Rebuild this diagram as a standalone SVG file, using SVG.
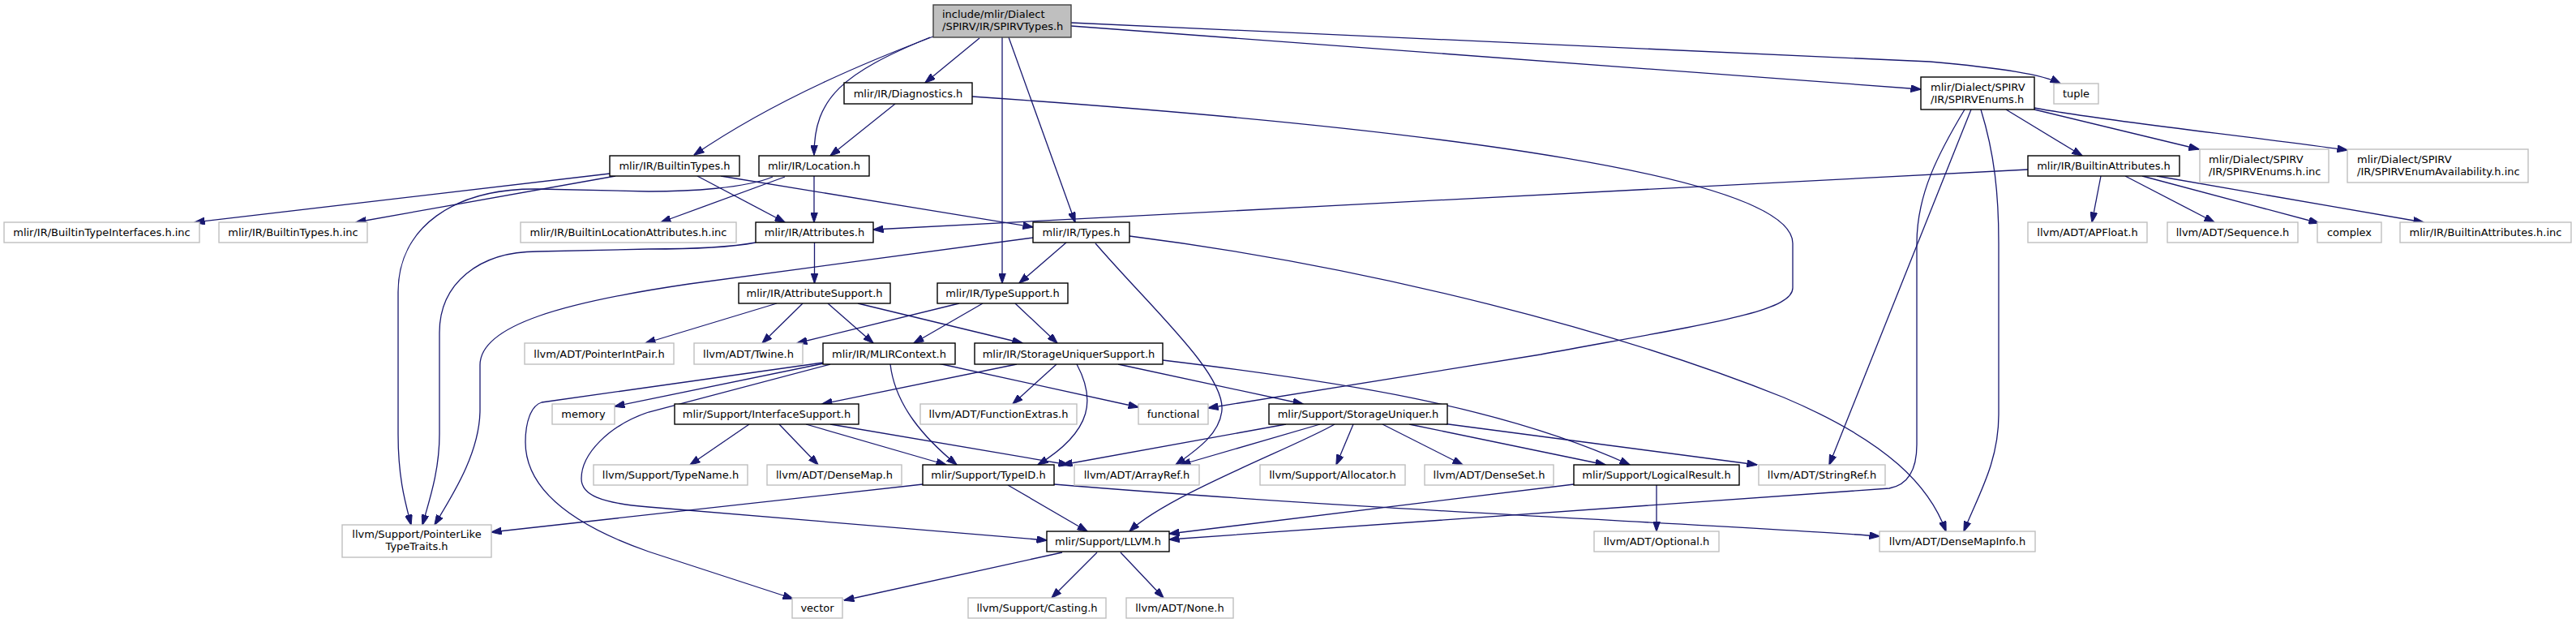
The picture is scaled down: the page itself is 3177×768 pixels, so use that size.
<svg xmlns="http://www.w3.org/2000/svg" width="3177" height="768" viewBox="0 0 3177 768">
<style>
text{font-family:"DejaVu Sans","Liberation Sans",sans-serif;font-size:13px;fill:#000}
.c{text-anchor:middle}
.l{text-anchor:start}
.d rect{fill:#fff;stroke:#000;stroke-width:1.4}
.x rect{fill:#fff;stroke:#bfbfbf;stroke-width:1.4}
.r rect{fill:#bfbfbf;stroke:#404040;stroke-width:1.4}
.e path{fill:none;stroke:#191970;stroke-width:1.3;marker-end:url(#a)}
</style>
<defs>
<marker id="a" viewBox="0 0 13 9" refX="12.5" refY="4.5" markerWidth="13" markerHeight="9" markerUnits="userSpaceOnUse" orient="auto">
<path d="M0,0 L13,4.5 L0,9 z" fill="#191970" stroke="#191970" stroke-width="1"/>
</marker>
</defs>
<rect width="3177" height="768" fill="#fff"/>
<g class="e" id="edges">
<path d="M1151,45 C1080,72 960,120 856,191"/>
<path d="M1147,46 C1040,90 1004,120 1004,191"/>
<path d="M1208,47 L1141,102"/>
<path d="M1236,46 L1236,349"/>
<path d="M1244,46 L1326,274"/>
<path d="M1321,32 L2369,110"/>
<path d="M1321,28 L2380,76 C2470,84 2520,92 2541,103"/>
<path d="M1104,128 L1024,192"/>
<path d="M1199,119 C1800,160 2211,220 2211,300 L2211,355 C2211,385 2100,400 1900,437 L1490,503"/>
<path d="M752,214 L240,274"/>
<path d="M759,217 L439,274"/>
<path d="M860,217 L968,274"/>
<path d="M889,217 L1274,280"/>
<path d="M1004,217 L1004,274"/>
<path d="M968,218 L815,274"/>
<path d="M953,218 C920,232 850,236 800,236 L663,233 C560,232 491,280 491,360 L491,535 C491,590 500,620 507,647"/>
<path d="M932,299 C900,305 850,307 800,307 L663,310 C590,310 542,350 542,410 L542,535 C542,580 530,615 521,647"/>
<path d="M1004.5,299 L1004.5,349"/>
<path d="M1274,293 L850,350 C700,372 592,400 592,450 L592,505 C592,560 555,615 536,647"/>
<path d="M1315,299 L1257,349"/>
<path d="M1351,300 C1420,380 1510,460 1507,505 C1505,535 1475,555 1450,573"/>
<path d="M1393,291 C1700,330 2000,410 2200,490 C2330,545 2380,600 2400,655"/>
<path d="M2474,135 L2568,192"/>
<path d="M2509,135 L2712,184"/>
<path d="M2509,133 C2600,150 2750,165 2895,185"/>
<path d="M2431,135 L2256,573"/>
<path d="M2423,135 C2390,190 2364,240 2364,300 L2364,548 C2364,580 2352,598 2330,602 L1442,665"/>
<path d="M2443,135 C2460,190 2465,240 2465,300 L2465,511 C2465,570 2440,610 2422,655"/>
<path d="M2501,209 L1077,283"/>
<path d="M2591,217 L2580,274"/>
<path d="M2621,217 L2731,274"/>
<path d="M2642,217 L2860,275"/>
<path d="M2660,217 L2989,274"/>
<path d="M958,374 L796,423"/>
<path d="M990,374 L940,423"/>
<path d="M1021,374 L1077,423"/>
<path d="M1058,374 L1261,423"/>
<path d="M1183,374 L983,423"/>
<path d="M1212,374 L1127,423"/>
<path d="M1252,374 L1304,423"/>
<path d="M1016,448 L758,501"/>
<path d="M1015,447 L668,496 C655,500 648,520 648,545 C648,600 700,645 800,680 L978,738"/>
<path d="M1024,449 L800,508 C750,525 717,560 717,590 C717,610 740,620 800,625 L1291,666"/>
<path d="M1098,449 C1104,500 1140,540 1180,573"/>
<path d="M1157,448 L1404,502"/>
<path d="M1254,449 L1014,498"/>
<path d="M1303,449 L1249,498"/>
<path d="M1328,449 C1350,490 1350,530 1280,573"/>
<path d="M1379,449 L1607,498"/>
<path d="M1434,444 C1650,470 1850,500 2010,573"/>
<path d="M924,523 L851,573"/>
<path d="M961,523 L1009,573"/>
<path d="M994,523 L1167,573"/>
<path d="M1024,523 L1318,573"/>
<path d="M1586,523 L1310,573"/>
<path d="M1628,523 L1456,573"/>
<path d="M1646,523 C1600,550 1440,610 1393,655"/>
<path d="M1669,523 L1648,573"/>
<path d="M1705,523 L1804,573"/>
<path d="M1738,523 L1980,573"/>
<path d="M1779,522 L2167,573"/>
<path d="M1243,598 L1341,655"/>
<path d="M1138,597 L606,656"/>
<path d="M1300,597 C1700,630 2100,645 2318,661"/>
<path d="M1941,597 L1442,658"/>
<path d="M2043,598 L2043,655"/>
<path d="M1310,681 L1041,740"/>
<path d="M1353,681 L1297,737"/>
<path d="M1382,681 L1435,737"/>
</g>
<g id="n_root" class="r"><rect x="1151" y="6" width="170" height="40"/><text class="l" x="1162" y="22">include/mlir/Dialect</text><text class="l" x="1162" y="37">/SPIRV/IR/SPIRVTypes.h</text></g>
<g id="n_diagnostics" class="d"><rect x="1041" y="102" width="158" height="26"/><text class="c" x="1120" y="119.5">mlir/IR/Diagnostics.h</text></g>
<g id="n_tuple" class="x"><rect x="2533" y="103" width="55" height="25"/><text class="c" x="2560.5" y="119.5">tuple</text></g>
<g id="n_spirvenums" class="d"><rect x="2369" y="95" width="140" height="40"/><text class="l" x="2381" y="112">mlir/Dialect/SPIRV</text><text class="l" x="2381" y="127">/IR/SPIRVEnums.h</text></g>
<g id="n_builtintypes" class="d"><rect x="752" y="192" width="160" height="25"/><text class="c" x="832" y="209">mlir/IR/BuiltinTypes.h</text></g>
<g id="n_location" class="d"><rect x="936" y="192" width="136" height="25"/><text class="c" x="1004" y="209">mlir/IR/Location.h</text></g>
<g id="n_builtinattributes" class="d"><rect x="2501" y="192" width="187" height="25"/><text class="c" x="2594.5" y="209">mlir/IR/BuiltinAttributes.h</text></g>
<g id="n_spirvenumsinc" class="x"><rect x="2713" y="184" width="159" height="41"/><text class="l" x="2724" y="201">mlir/Dialect/SPIRV</text><text class="l" x="2724" y="216">/IR/SPIRVEnums.h.inc</text></g>
<g id="n_spirvavail" class="x"><rect x="2895" y="184" width="223" height="41"/><text class="l" x="2907" y="201">mlir/Dialect/SPIRV</text><text class="l" x="2907" y="216">/IR/SPIRVEnumAvailability.h.inc</text></g>
<g id="n_bti_inc" class="x"><rect x="5" y="274" width="241" height="25"/><text class="c" x="125.5" y="291">mlir/IR/BuiltinTypeInterfaces.h.inc</text></g>
<g id="n_bt_inc" class="x"><rect x="270" y="274" width="183" height="25"/><text class="c" x="361.5" y="291">mlir/IR/BuiltinTypes.h.inc</text></g>
<g id="n_bla_inc" class="x"><rect x="642" y="274" width="266" height="25"/><text class="c" x="775" y="291">mlir/IR/BuiltinLocationAttributes.h.inc</text></g>
<g id="n_attributes" class="d"><rect x="932" y="274" width="145" height="25"/><text class="c" x="1004.5" y="291">mlir/IR/Attributes.h</text></g>
<g id="n_types" class="d"><rect x="1274" y="274" width="119" height="25"/><text class="c" x="1333.5" y="291">mlir/IR/Types.h</text></g>
<g id="n_apfloat" class="x"><rect x="2501" y="274" width="147" height="25"/><text class="c" x="2574.5" y="291">llvm/ADT/APFloat.h</text></g>
<g id="n_sequence" class="x"><rect x="2673" y="274" width="161" height="25"/><text class="c" x="2753.5" y="291">llvm/ADT/Sequence.h</text></g>
<g id="n_complex" class="x"><rect x="2858" y="274" width="79" height="25"/><text class="c" x="2897.5" y="291">complex</text></g>
<g id="n_ba_inc" class="x"><rect x="2960" y="274" width="211" height="25"/><text class="c" x="3065.5" y="291">mlir/IR/BuiltinAttributes.h.inc</text></g>
<g id="n_attributesupport" class="d"><rect x="911" y="349" width="187" height="25"/><text class="c" x="1004.5" y="366">mlir/IR/AttributeSupport.h</text></g>
<g id="n_typesupport" class="d"><rect x="1156" y="349" width="161" height="25"/><text class="c" x="1236.5" y="366">mlir/IR/TypeSupport.h</text></g>
<g id="n_pointerintpair" class="x"><rect x="647" y="423" width="184" height="26"/><text class="c" x="739" y="440.5">llvm/ADT/PointerIntPair.h</text></g>
<g id="n_twine" class="x"><rect x="856" y="423" width="134" height="26"/><text class="c" x="923" y="440.5">llvm/ADT/Twine.h</text></g>
<g id="n_mlircontext" class="d"><rect x="1015" y="423" width="163" height="26"/><text class="c" x="1096.5" y="440.5">mlir/IR/MLIRContext.h</text></g>
<g id="n_sus" class="d"><rect x="1202" y="423" width="232" height="26"/><text class="c" x="1318" y="440.5">mlir/IR/StorageUniquerSupport.h</text></g>
<g id="n_memory" class="x"><rect x="681" y="498" width="77" height="25"/><text class="c" x="719.5" y="515">memory</text></g>
<g id="n_interfacesupport" class="d"><rect x="832" y="498" width="227" height="25"/><text class="c" x="945.5" y="515">mlir/Support/InterfaceSupport.h</text></g>
<g id="n_functionextras" class="x"><rect x="1135" y="498" width="193" height="25"/><text class="c" x="1231.5" y="515">llvm/ADT/FunctionExtras.h</text></g>
<g id="n_functional" class="x"><rect x="1404" y="498" width="86" height="25"/><text class="c" x="1447" y="515">functional</text></g>
<g id="n_storageuniquer" class="d"><rect x="1565" y="498" width="220" height="25"/><text class="c" x="1675" y="515">mlir/Support/StorageUniquer.h</text></g>
<g id="n_typename" class="x"><rect x="732" y="573" width="190" height="25"/><text class="c" x="827" y="590">llvm/Support/TypeName.h</text></g>
<g id="n_densemap" class="x"><rect x="946" y="573" width="166" height="25"/><text class="c" x="1029" y="590">llvm/ADT/DenseMap.h</text></g>
<g id="n_typeid" class="d"><rect x="1138" y="573" width="162" height="25"/><text class="c" x="1219" y="590">mlir/Support/TypeID.h</text></g>
<g id="n_arrayref" class="x"><rect x="1325" y="573" width="154" height="25"/><text class="c" x="1402" y="590">llvm/ADT/ArrayRef.h</text></g>
<g id="n_allocator" class="x"><rect x="1554" y="573" width="179" height="25"/><text class="c" x="1643.5" y="590">llvm/Support/Allocator.h</text></g>
<g id="n_denseset" class="x"><rect x="1757" y="573" width="159" height="25"/><text class="c" x="1836.5" y="590">llvm/ADT/DenseSet.h</text></g>
<g id="n_logicalresult" class="d"><rect x="1941" y="573" width="204" height="25"/><text class="c" x="2043" y="590">mlir/Support/LogicalResult.h</text></g>
<g id="n_stringref" class="x"><rect x="2169" y="573" width="156" height="25"/><text class="c" x="2247" y="590">llvm/ADT/StringRef.h</text></g>
<g id="n_pointerlike" class="x"><rect x="422" y="647" width="184" height="40"/><text class="c" x="514" y="663">llvm/Support/PointerLike</text><text class="c" x="514" y="678">TypeTraits.h</text></g>
<g id="n_llvm" class="d"><rect x="1291" y="655" width="151" height="25"/><text class="c" x="1366.5" y="672">mlir/Support/LLVM.h</text></g>
<g id="n_optional" class="x"><rect x="1966" y="655" width="154" height="25"/><text class="c" x="2043" y="672">llvm/ADT/Optional.h</text></g>
<g id="n_densemapinfo" class="x"><rect x="2318" y="655" width="192" height="25"/><text class="c" x="2414" y="672">llvm/ADT/DenseMapInfo.h</text></g>
<g id="n_vector" class="x"><rect x="977" y="737" width="62" height="25"/><text class="c" x="1008" y="754">vector</text></g>
<g id="n_casting" class="x"><rect x="1194" y="737" width="170" height="25"/><text class="c" x="1279" y="754">llvm/Support/Casting.h</text></g>
<g id="n_none" class="x"><rect x="1389" y="737" width="132" height="25"/><text class="c" x="1455" y="754">llvm/ADT/None.h</text></g>
</svg>
